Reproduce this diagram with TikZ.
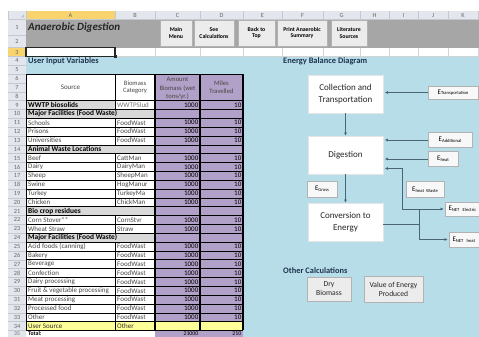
\documentclass[tikz,border=0pt]{standalone}
\usepackage{fontspec}
\setmainfont{Carlito}
\usetikzlibrary{arrows.meta,calc,shadows}
\definecolor{hdr}{HTML}{E3E7ED}
\definecolor{hdrline}{HTML}{C3C9D1}
\definecolor{sel}{HTML}{F9D36E}
\definecolor{band}{HTML}{A6A6A6}
\definecolor{bluebg}{HTML}{B7DEE8}
\definecolor{purp}{HTML}{B1A0C7}
\definecolor{secg}{HTML}{D9D9D9}
\definecolor{yel}{HTML}{FFFF99}
\definecolor{txt}{HTML}{262626}
\definecolor{navy}{HTML}{1F3350}
\definecolor{arrc}{HTML}{4A6676}
\definecolor{btnc}{HTML}{ECECEC}
\definecolor{ebg}{HTML}{F8F8F8}
\definecolor{gridc}{HTML}{D4D4D4}
\newcommand{\Elbl}[1]{{\fontsize{7}{8}\selectfont E}\raisebox{-0.7pt}{\fontsize{4.6}{5}\selectfont #1}}
\def\RZ{56.4}
\def\RH{8.84}
\begin{document}
\begin{tikzpicture}[x=1pt,y=-1pt,
  cell/.style={font=\fontsize{7}{8}\selectfont, text=txt!85, inner sep=0pt},
  bcell/.style={font=\bfseries\fontsize{7.4}{8}\selectfont, text=black, inner sep=0pt},
  hnum/.style={font=\fontsize{6.3}{7}\selectfont, text=black!60, inner sep=0pt},
  arr/.style={draw=arrc, line width=0.7pt, -{Latex[length=3.2pt,width=3pt]}},
  lin/.style={draw=arrc, line width=0.7pt},
  proc/.style={draw=black!10, fill=white, minimum width=75pt, minimum height=38pt, align=center, inner sep=0pt, font=\fontsize{9}{11.5}\selectfont, text=txt},
  ebox/.style={draw=black!30, fill=ebg, inner sep=0pt, align=center, drop shadow={shadow xshift=0.9pt,shadow yshift=-0.9pt,fill=black!45,opacity=1}},
  btn/.style={draw=black!30, fill=btnc, align=center, inner sep=0pt, drop shadow={shadow xshift=0.9pt,shadow yshift=-0.9pt,fill=black!55,opacity=1}},
  sbtn/.style={btn, font=\bfseries\fontsize{5.8}{6.6}\selectfont},
  ttl/.style={font=\bfseries\fontsize{8.4}{10}\selectfont, text=navy, inner sep=0pt, anchor=west}
]
\useasboundingbox (0,0) rectangle (479,337);
\clip (0,0) rectangle (479,337);
% ---------- backgrounds ----------
\fill[white] (0,0) rectangle (479,337);
\fill[hdr] (8,11) rectangle (479,19);
\fill[sel] (26,11) rectangle (115,19);
\fill[hdr] (8,19) rectangle (26,337);
\fill[sel] (8,47.6) rectangle (26,56.4);
\fill[band] (26,19) rectangle (479,47.6);
\fill[bluebg] (26,56.4) rectangle (479,74.1);
\fill[bluebg] (243,74.1) rectangle (479,337);
% corner triangle
\fill[black!25] (24,17.5) -- (24,14.5) -- (21,17.5) -- cycle;
% column header separators and letters
\foreach \x in {8,26,115,155,200,243,282,323,360,389,418,448,478}
  \draw[hdrline, line width=0.4pt] (\x,11) -- (\x,19);
\draw[hdrline, line width=0.4pt] (8,19) -- (479,19);
\foreach \c/\x in {A/70.5,B/135,C/177.5,D/221.5,E/262.5,F/302.5,G/341.5,H/374.5,I/403.5,J/433,K/463}
  \node[hnum] (col\c) at (\x,15.2) {\c};
% row 3 grid
\foreach \x in {155,200,243,282,323,360,389,418,448,478}
  \draw[gridc, line width=0.4pt] (\x,47.6) -- (\x,56.4);
\draw[gridc, line width=0.4pt] (115,56.4) -- (479,56.4);
% row header numbers
\foreach \y in {35,47.6}
  \draw[hdrline, line width=0.4pt] (8,\y) -- (26,\y);
\node[hnum] (rn1) at (17,27.5) {1};
\node[hnum] (rn2) at (17,41.5) {2};
\node[hnum] (rn3) at (17,52) {3};
\foreach \r in {4,...,34}{
  \draw[hdrline, line width=0.4pt] (8,{\RZ+(\r-4)*\RH}) -- (26,{\RZ+(\r-4)*\RH});
  \node[hnum] (rn\r) at (17,{\RZ+(\r-3.5)*\RH}) {\r};
}
\draw[hdrline, line width=0.4pt] (8,{\RZ+31*\RH}) -- (26,{\RZ+31*\RH});
\node[hnum, font=\fontsize{5.6}{6}\selectfont] (rn35) at (17,333.6) {35};
% ---------- title band ----------
\node[font=\bfseries\itshape\fontsize{11}{12}\selectfont, text=txt, anchor=west, inner sep=0pt] (title) at (28,27.5) {Anaerobic Digestion};
\node[sbtn, minimum width=32pt, minimum height=26pt] (bmain) at (176,33) {Main\\Menu};
\node[sbtn, minimum width=40pt, minimum height=26pt] (bcalc) at (214,33) {See\\Calculations};
\node[sbtn, minimum width=37pt, minimum height=26pt] (bback) at (256.5,33) {Back to\\Top};
\node[sbtn, minimum width=50pt, minimum height=26pt] (bprint) at (302,33) {Print Anaerobic\\Summary};
\node[sbtn, minimum width=36pt, minimum height=26pt] (blit) at (349,33) {Literature\\Sources};
% ---------- user input table ----------
\node[ttl, text=navy] (uiv) at (28,61) {User Input Variables};
\fill[white] (26,74.1) rectangle (155,100.6);
\fill[purp] (155,74.1) rectangle (243,337);
\node[cell, align=center] (hsrc) at (70.5,87.4) {Source};
\node[cell, align=center, font=\fontsize{6.6}{7.6}\selectfont] (hcat) at (135,87.4) {Biomass\\Category};
\begin{scope}
\clip (155,74.1) rectangle (200,100.6);
\node[cell, align=center, font=\fontsize{6.6}{8.2}\selectfont] (hamt) at (177.5,88.5) {Amount\\Biomass (wet\\tons/yr.)};
\end{scope}
\node[cell, align=center, font=\fontsize{6.6}{7.6}\selectfont] (hmil) at (221.5,87.4) {Miles\\Travelled};
% row 9
\fill[secg] (26,{\RZ+5*\RH}) rectangle (115,{\RZ+6*\RH});
\fill[white] (115,{\RZ+5*\RH}) rectangle (155,{\RZ+6*\RH});
\node[bcell, anchor=west] (a9) at (28,{\RZ+5.5*\RH}) {WWTP biosolids};
\node[cell, anchor=west, text=black!55] (b9) at (117,{\RZ+5.5*\RH}) {WWTPSlud};
% section rows
\foreach \r/\a in {10/Major Facilities (Food Waste),14/Animal Waste Locations,21/Bio crop residues,24/Major Facilities (Food Waste)}{
  \fill[secg] (26,{\RZ+(\r-4)*\RH}) rectangle (155,{\RZ+(\r-3)*\RH});
  \node[bcell, anchor=west] (a\r) at (28,{\RZ+(\r-3.5)*\RH}) {\a};
}
% data rows
\foreach \r/\a/\b in {11/Schools/FoodWast,12/Prisons/FoodWast,13/Universities/FoodWast,15/Beef/CattMan,16/Dairy/DairyMan,17/Sheep/SheepMan,18/Swine/HogManur,19/Turkey/TurkeyMa,20/Chicken/ChickMan,22/Corn Stover**/CornStvr,23/Wheat Straw/Straw,25/Acid foods (canning)/FoodWast,26/Bakery/FoodWast,27/Beverage/FoodWast,28/Confection/FoodWast,29/Dairy processing/FoodWast,30/Fruit \& vegetable processing/FoodWast,31/Meat processing/FoodWast,32/Processed food/FoodWast,33/Other/FoodWast}{
  \fill[white] (26,{\RZ+(\r-4)*\RH}) rectangle (155,{\RZ+(\r-3)*\RH});
  \node[cell, anchor=west] (a\r) at (28,{\RZ+(\r-3.5)*\RH}) {\a};
  \begin{scope}
  \clip (115,{\RZ+(\r-4)*\RH}) rectangle (155,{\RZ+(\r-3)*\RH});
  \node[cell, anchor=west] (b\r) at (117,{\RZ+(\r-3.5)*\RH}) {\b};
  \end{scope}
}
% values
\foreach \r in {9,11,12,13,15,16,17,18,19,20,22,23,25,26,27,28,29,30,31,32,33}{
  \node[cell, anchor=east, text=black] (c\r) at (198.5,{\RZ+(\r-3.5)*\RH}) {1000};
  \node[cell, anchor=east, text=black] (d\r) at (241.5,{\RZ+(\r-3.5)*\RH}) {10};
}
% row 34 user source
\fill[yel] (26,{\RZ+30*\RH}) rectangle (243,{\RZ+31*\RH});
\node[cell, anchor=west, text=black!80!yellow!40!black] (a34) at (28,{\RZ+30.5*\RH}) {User Source};
\node[cell, anchor=west, text=black!80!yellow!40!black] (b34) at (117,{\RZ+30.5*\RH}) {Other};
% row 35 total
\fill[white] (26,{\RZ+31*\RH}) rectangle (155,337);
\node[bcell, anchor=west, font=\bfseries\fontsize{5.8}{6}\selectfont] (a35) at (28,333.6) {Total:};
\node[cell, anchor=east, text=black, font=\fontsize{5.8}{6}\selectfont] (c35) at (198.5,333.6) {21000};
\node[cell, anchor=east, text=black, font=\fontsize{5.8}{6}\selectfont] (d35) at (241.5,333.6) {210};
% borders
\draw[black, line width=0.5pt] (26,74.1) -- (243,74.1);
\foreach \r in {9,...,35}
  \draw[black, line width=0.5pt] (26,{\RZ+(\r-4)*\RH}) -- (243,{\RZ+(\r-4)*\RH});
\draw[black, line width=0.5pt] (26,74.1) -- (26,{\RZ+31*\RH});
\draw[black, line width=0.5pt] (115,74.1) -- (115,{\RZ+6*\RH});
\foreach \a/\b in {11/14,15/21,22/24,25/35}
  \draw[black, line width=0.5pt] (115,{\RZ+(\a-4)*\RH}) -- (115,{\RZ+(\b-4)*\RH});
\foreach \x in {155,200,243}
  \draw[black, line width=1.2pt] (\x,74.1) -- (\x,{\RZ+31*\RH});
% selected cell A3
\draw[black!85, line width=1.3pt] (26,47.6) rectangle (115,56.4);
\fill[black!85] (113.5,54.9) rectangle (116.5,57.9);
% ---------- energy balance diagram ----------
\node[ttl] (ebd) at (283,61) {Energy Balance Diagram};
\node[proc] (coll) at (345.5,94) {Collection and\\Transportation};
\node[proc] (dig) at (345.5,155) {Digestion};
\node[proc] (conv) at (345.5,222) {Conversion to\\Energy};
\node[ebox, minimum width=50pt, minimum height=13pt] (etr) at (453,92.5) {\Elbl{Transportation}};
\node[ebox, minimum width=44pt, minimum height=15pt] (eadd) at (450,140) {\Elbl{Additional}};
\node[ebox, minimum width=30pt, minimum height=15pt] (eheat) at (443,159) {\Elbl{heat}};
\node[ebox, minimum width=38pt, minimum height=16pt] (ehw) at (425,189.5) {\Elbl{heat\ \ Waste}};
\node[ebox, minimum width=30pt, minimum height=16pt] (egr) at (322,189) {\Elbl{Gross}};
\node[ebox, minimum height=14pt, text width=56pt, align=left, inner xsep=3pt] (enetE) at (476.5,209) {\Elbl{NET\ Electric}};
\node[ebox, minimum height=15pt, text width=56pt, align=left, inner xsep=3pt] (enetH) at (480.5,239.5) {\Elbl{NET\ heat}};
\draw[arr] (coll.south) -- (dig.north);
\draw[arr] (dig.south) -- (conv.north);
\draw[arr, shorten >=1.5pt] (etr.west) -- (etr.west -| coll.east);
\draw[arr, shorten >=1.5pt] (eadd.west) -- (eadd.west -| dig.east);
\draw[arr, shorten >=1.5pt] (eheat.west) -- (eheat.west -| dig.east);
\coordinate (jc) at (419.5,224);
\coordinate (ju) at (419.5,209);
\coordinate (jl) at (402.5,209);
\coordinate (jd) at (402.5,168.5);
\draw[lin] (jc -| conv.east) -- (jc);
\draw[lin] (jc) -- (ju);
\draw[arr, shorten >=1.5pt] (ju) -- (ju -| enetE.west);
\draw[arr, shorten >=1.5pt] (jc) |- (enetH.west);
\draw[arr, shorten >=1.5pt] (ju) -- (jl) -- (jd) -- (jd -| dig.east);
% other calculations
\node[ttl] (oc) at (283,271) {Other Calculations};
\node[btn, minimum width=44pt, minimum height=24pt, font=\fontsize{7.6}{9}\selectfont, text=txt] (dry) at (329,289) {Dry\\Biomass};
\node[btn, minimum width=59pt, minimum height=26pt, font=\fontsize{7.6}{9}\selectfont, text=txt] (val) at (393.5,289) {Value of Energy\\Produced};
\end{tikzpicture}
\end{document}
